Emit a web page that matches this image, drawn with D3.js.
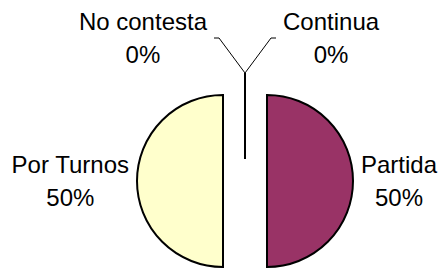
<!doctype html>
<html lang="en">
<head>
<meta charset="utf-8">
<style>
html, body { margin: 0; padding: 0; background: #fff; overflow: hidden; }
svg { display: block; }
text { font-family: "Liberation Sans", Arial, sans-serif; font-size: 24px; fill: #000; }
</style>
</head>
<body>
<svg id="chart" width="445" height="269"></svg>
<script src="https://cdn.jsdelivr.net/npm/d3@7/dist/d3.min.js"></script>
<script>
// data, clockwise from 12 o'clock
const categories = ['Continua', 'Partida', 'Por Turnos', 'No contesta'];
const values = [0, 50, 50, 0];
const colors = ['#ffffff', '#993366', '#ffffcc', '#ffffff'];

const width = 445, height = 269,
      cx = 245, cy = 181, radius = 86, explode = 22;

const svg = d3.select('#chart');
const total = d3.sum(values);
const pct = v => `${Math.round(v / total * 100)}%`;

const pie = d3.pie().sort(null).value(d => d.v);
const arc = d3.arc().innerRadius(0).outerRadius(radius);
const arcs = pie(categories.map((c, i) => ({c, v: values[i], color: colors[i]})));

const offset = a => {
    const m = (a.startAngle + a.endAngle) / 2;
    return [Math.sin(m) * explode, -Math.cos(m) * explode];
};

const g = svg.append('g').attr('transform', `translate(${cx},${cy})`);

g.selectAll('path.slice').data(arcs).enter()
    .append('path')
    .attr('class', 'slice')
    .attr('transform', d => `translate(${offset(d)})`)
    .attr('d', arc)
    .attr('fill', d => d.data.color)
    .attr('stroke', '#000')
    .attr('stroke-width', 2)
    .attr('stroke-linejoin', 'miter');

// labels: two lines, centred on a block
function label(x, y, d, anchorSide) {
    const t = svg.append('text').attr('text-anchor', 'middle');
    const l1 = t.append('tspan').text(d.data.c);
    const l2 = t.append('tspan').text(pct(d.data.v));
    const w = Math.max(l1.node().getComputedTextLength(), l2.node().getComputedTextLength());
    const mx = anchorSide > 0 ? x + w / 2 : x - w / 2;
    l1.attr('x', mx).attr('y', y - 8);
    l2.attr('x', mx).attr('y', y + 25);
}

arcs.forEach(d => {
    const [ox, oy] = offset(d);
    if (d.data.v > 0) {
        const m = (d.startAngle + d.endAngle) / 2;
        const side = Math.sin(m) > 0 ? 1 : -1;
        label(cx + ox + side * (radius + 8), cy + oy, d, side);
    } else {
        // leader line from the outer tip of the zero slice
        const side = d.startAngle < Math.PI ? 1 : -1;
        const x0 = cx + ox, y0 = cy + oy - radius;
        const ex = x0 + side * 26, ey = y0 - 35;
        svg.append('path')
            .attr('d', `M${x0},${y0}L${ex},${ey}H${ex + side * 5}`)
            .attr('fill', 'none')
            .attr('stroke', '#000')
            .attr('stroke-width', 1);
        label(ex + side * 12, ey, d, side);
    }
});
</script>
</body>
</html>
